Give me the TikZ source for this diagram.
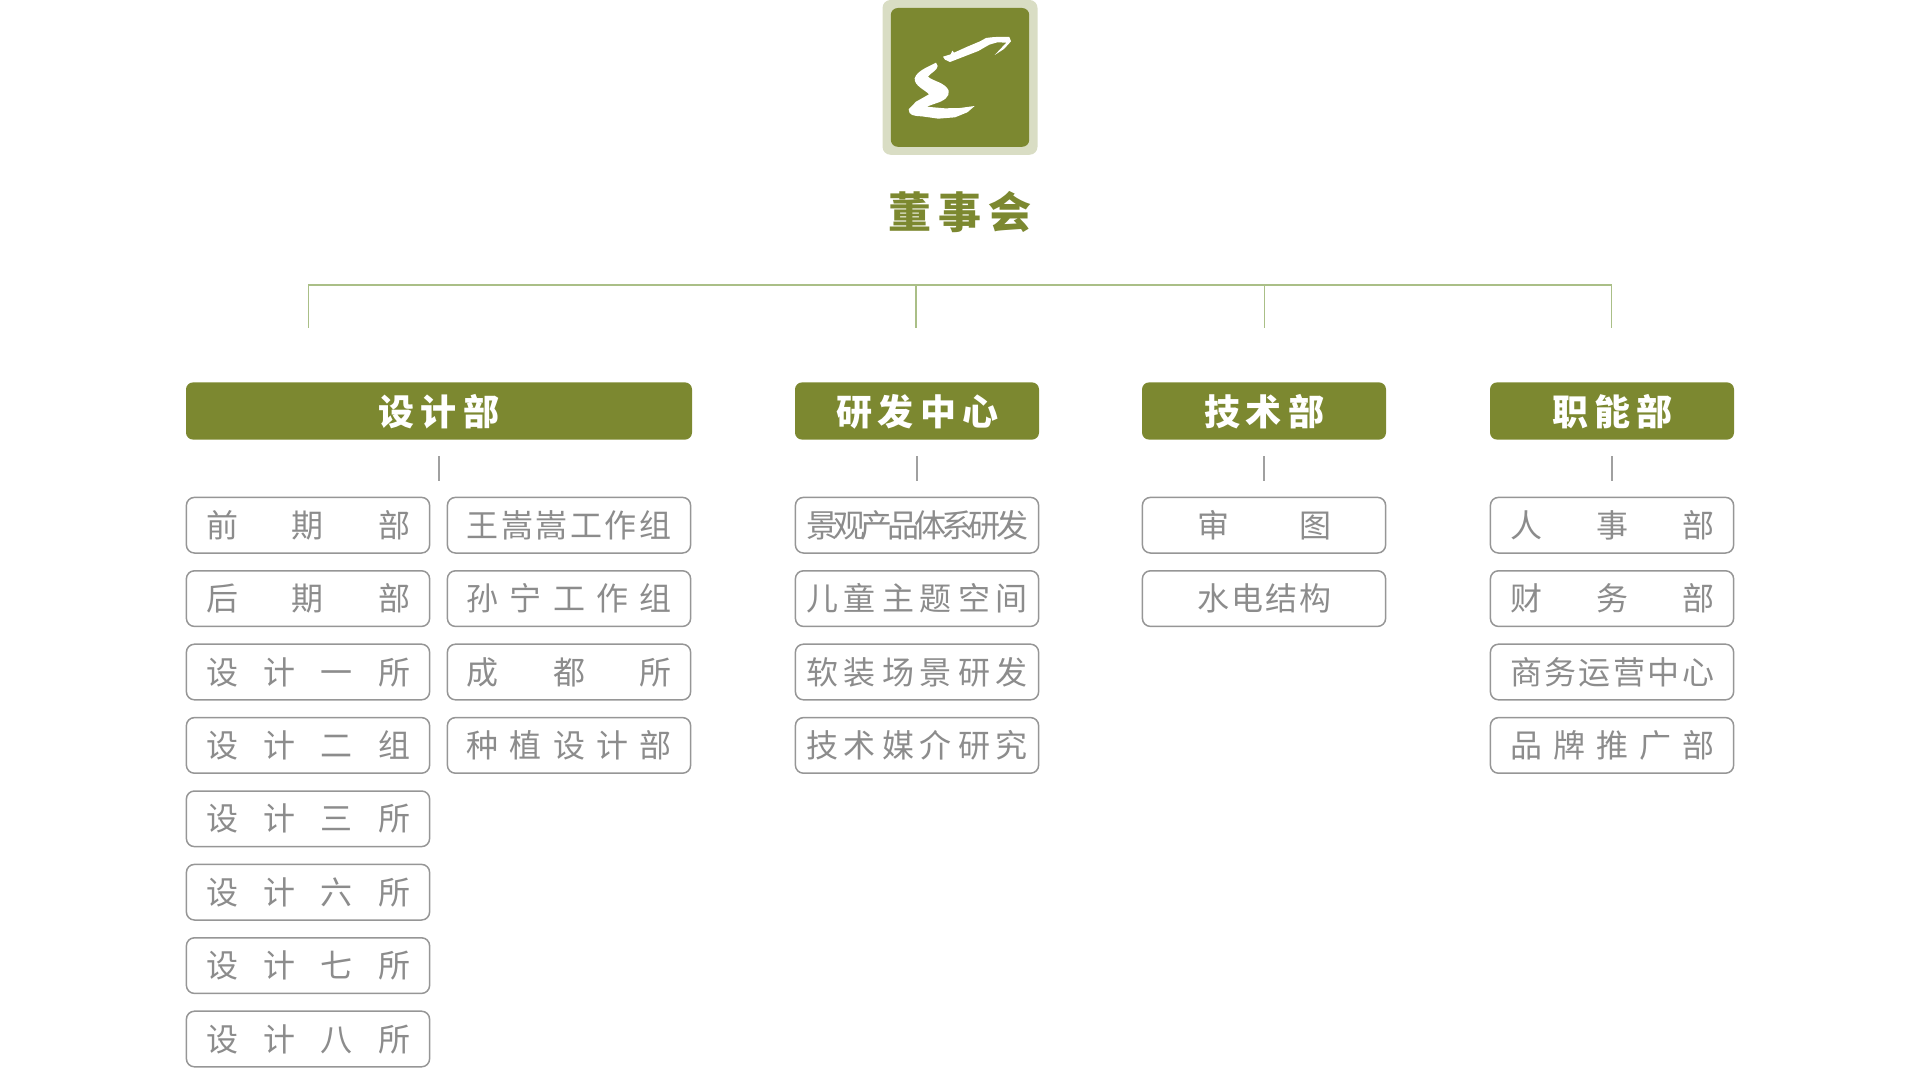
\documentclass[tikz,border=0pt]{standalone}
\usepackage{fontspec}
\usepackage{xcolor}
\setmainfont{Noto Sans CJK SC}
\definecolor{olive}{RGB}{124,136,48}
\definecolor{palegreen}{RGB}{217,221,196}
\definecolor{railgreen}{RGB}{170,191,135}
\definecolor{tickgray}{RGB}{160,160,160}
\definecolor{boxgray}{RGB}{150,150,150}
\definecolor{textgray}{RGB}{140,140,140}

% verdeelt de tekens over een vaste breedte
\def\spreadloop#1#2{#1\ifx#2\relax\else\hspace{0pt plus 1fil minus 1fil}\expandafter\spreadloop\expandafter#2\fi}
\newcommand{\spreadtext}[2]{\makebox[#1][s]{\expandafter\spreadloop#2\relax}}

\begin{document}
\begin{tikzpicture}[x=0.5pt, y=-0.5pt,
    headbox/.style={fill=olive, draw=none, rounded corners=3.5pt, minimum width=#1, minimum height=28.6pt,
        inner sep=0pt, text=white, font=\fontsize{18}{18}\bfseries\selectfont, text height=15.8pt, text depth=1.4pt},
    subbox/.style={draw=boxgray, line width=0.75pt, fill=white, rounded corners=4pt, minimum width=121.6pt, minimum height=27.8pt,
        inner sep=0pt, text=textgray, font=\fontsize{16}{16}\selectfont, text height=13.4pt, text depth=1.3pt},
    railline/.style={draw=railgreen, line width=0.85pt},
    tickline/.style={draw=tickgray, line width=0.8pt}]
    \useasboundingbox (0,0) rectangle (1920,1080);

    % Logo
    \node[fill=palegreen, rounded corners=4pt, minimum width=77.5pt, minimum height=77.4pt, inner sep=0pt] (logoOuter) at (960,77.4) {};
    \node[fill=olive, rounded corners=3.5pt, minimum width=69.2pt, minimum height=69.4pt, inner sep=0pt] (logoInner) at (960,77.4) {};
    \begin{scope}[shift={(880,0)}, scale=1/3]
        \fill[white] (189,170) -- (212,163) -- (217,152) -- (222,158) -- (262,140) -- (300,124) -- (318,114)
            .. controls (345,110) and (370,110) .. (388,111) -- (393,124) -- (372,147) -- (344,165)
            -- (362,146) -- (379,128) -- (352,127) -- (328,134) -- (295,153) -- (210,186) -- (195,179) -- cycle;
        \fill[white] (168,188) .. controls (150,198) and (110,212) .. (104,235)
            .. controls (103,258) and (133,268) .. (147,283) -- (108,305) -- (86,328)
            .. controls (86,346) and (100,348) .. (125,349) -- (175,356) -- (225,352) -- (262,337) -- (284,318)
            -- (240,324) -- (195,325) -- (160,322) -- (140,320) -- (165,311)
            .. controls (192,303) and (210,290) .. (206,272)
            .. controls (197,248) and (157,243) .. (144,230)
            .. controls (152,218) and (172,212) .. (173,198) -- cycle;
    \end{scope}
    \node[text=olive, font=\fontsize{21.5}{21.5}\bfseries\selectfont, text height=18pt, text depth=1.7pt, inner sep=0pt] (board) at (960,212) {\spreadtext{72pt}{董事会}};

    % Verbindingslijn bovenaan
    \coordinate (railA) at (308.5,285);
    \coordinate (railB) at (916,285);
    \coordinate (railC) at (1264.5,285);
    \coordinate (railD) at (1611.5,285);
    \foreach \name/\xpos in {dropA/308.5, dropB/916, dropC/1264.5, dropD/1611.5}
        \coordinate (\name) at (\xpos,328);
    \draw[railline] (dropA) -- (railA) -- (railD) -- (dropD);
    \draw[railline] (railB) -- (dropB);
    \draw[railline] (railC) -- (dropC);

    % Afdelingen
    \node[headbox=253pt] (headDesign) at (439,411) {\spreadtext{60.5pt}{设计部}};
    \node[headbox=122pt] (headLab) at (917,411) {\spreadtext{81pt}{研发中心}};
    \node[headbox=122pt] (headTech) at (1264,411) {\spreadtext{60pt}{技术部}};
    \node[headbox=122pt] (headFunc) at (1612,411) {\spreadtext{60pt}{职能部}};

    % Korte streepjes
    \foreach \name/\xpos in {Design/439, Lab/917, Tech/1264, Func/1612} {
        \coordinate (tick\name Top) at (\xpos,456);
        \coordinate (tick\name Bot) at (\xpos,481);
        \draw[tickline] (tick\name Top) -- (tick\name Bot);
    }

    % Vakjes per kolom
    \foreach \r/\lbl in {1/前期部, 2/后期部, 3/设计一所, 4/设计二组, 5/设计三所, 6/设计六所, 7/设计七所, 8/设计八所} {
        \pgfmathsetmacro{\rowy}{525.2+73.4*(\r-1)}
        \node[subbox] (subA\r) at (308,\rowy) {\spreadtext{102pt}{\lbl}};
    }
    \foreach \r/\lbl in {1/王嵩嵩工作组, 2/孙宁工作组, 3/成都所, 4/种植设计部} {
        \pgfmathsetmacro{\rowy}{525.2+73.4*(\r-1)}
        \node[subbox] (subB\r) at (569,\rowy) {\spreadtext{102.5pt}{\lbl}};
    }
    \foreach \r/\lbl in {1/景观产品体系研发, 2/儿童主题空间, 3/软装场景研发, 4/技术媒介研究} {
        \pgfmathsetmacro{\rowy}{525.2+73.4*(\r-1)}
        \node[subbox] (subC\r) at (917,\rowy) {\spreadtext{111pt}{\lbl}};
    }
    \foreach \r/\lbl in {1/审图, 2/水电结构} {
        \pgfmathsetmacro{\rowy}{525.2+73.4*(\r-1)}
        \node[subbox] (subD\r) at (1264,\rowy) {\spreadtext{67pt}{\lbl}};
    }
    \foreach \r/\lbl in {1/人事部, 2/财务部, 3/商务运营中心, 4/品牌推广部} {
        \pgfmathsetmacro{\rowy}{525.2+73.4*(\r-1)}
        \node[subbox] (subE\r) at (1612,\rowy) {\spreadtext{102pt}{\lbl}};
    }
\end{tikzpicture}
\end{document}
